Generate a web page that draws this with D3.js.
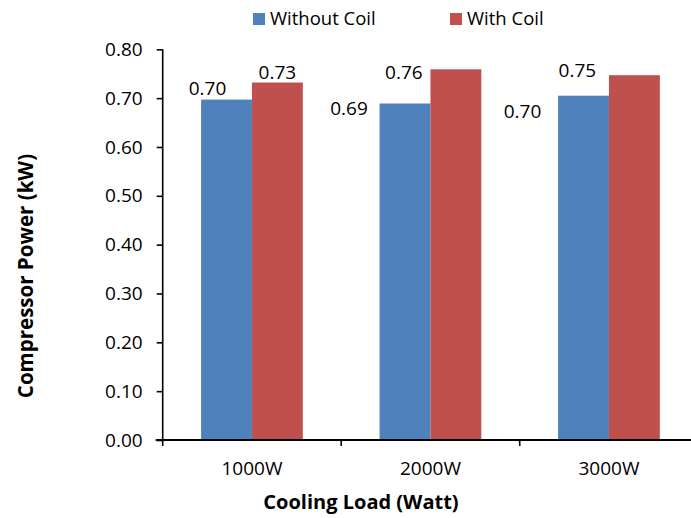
<!DOCTYPE html>
<html>
<head>
<meta charset="utf-8">
<script src="https://cdn.jsdelivr.net/npm/d3@7"></script>
<style>
    body { margin: 0; background: #fff; }
    text { font-family: "Open Sans", sans-serif; fill: #000; }
</style>
</head>
<body>
<svg id="chart" width="691" height="518"></svg>
<script>
'use strict';

const categories = ['1000W', '2000W', '3000W'];
const seriesNames = ['Without Coil', 'With Coil'];
const withoutCoil = [0.697, 0.689, 0.705];
const withCoil = [0.732, 0.759, 0.747];
const valueLabels = [['0.70', '0.69', '0.70'], ['0.73', '0.76', '0.75']];
const yTicks = [0, 0.1, 0.2, 0.3, 0.4, 0.5, 0.6, 0.7, 0.8];

// label nudges (px) relative to bar top centre, per series then category
const labelOffset = [
    [[-19, -5], [-56, 11], [-61, 22]],
    [[0, -4], [-52, 10], [-57, 2]]
];
const colors = ['#4F81BD', '#C0504D'];

const svg = d3.select('#chart');
const plotLeft = 162.7, plotRight = 698.2, plotTop = 49.3, plotBottom = 440;
const fontSize = '19px';

const x0 = d3.scaleBand().domain(categories).range([plotLeft, plotRight])
    .paddingInner(0.43).paddingOuter(0.215);
const x1 = d3.scaleBand().domain(seriesNames).range([0, x0.bandwidth()]);
const y = d3.scaleLinear().domain([0, 0.8]).range([plotBottom, plotTop]);

const rows = categories.map((c, i) => ({ cat: c, values: [withoutCoil[i], withCoil[i]] }));

// bars
const groups = svg.append('g').selectAll('g').data(rows).join('g')
    .attr('transform', d => `translate(${x0(d.cat)},0)`);

groups.selectAll('rect').data(d => d.values.map((v, s) => ({ v, s })))
    .join('rect')
    .attr('x', d => x1(seriesNames[d.s]))
    .attr('y', d => y(d.v))
    .attr('width', x1.bandwidth())
    .attr('height', d => y(0) - y(d.v))
    .attr('fill', d => colors[d.s]);

// value labels
rows.forEach((r, ci) => {
    r.values.forEach((v, s) => {
        const cx = x0(r.cat) + x1(seriesNames[s]) + x1.bandwidth() / 2;
        const off = labelOffset[s][ci];
        svg.append('text')
            .attr('x', cx + off[0])
            .attr('y', y(v) + off[1])
            .attr('text-anchor', 'middle')
            .style('font-size', fontSize)
            .text(valueLabels[s][ci]);
    });
});

// y axis
const yAxis = svg.append('g').attr('transform', `translate(${plotLeft},0)`)
    .call(d3.axisLeft(y).tickValues(yTicks).tickFormat(d3.format('.2f')).tickSize(6).tickPadding(14));
yAxis.select('.domain').attr('stroke', '#000').attr('stroke-width', 1.6).attr('d', `M0,${plotTop}V${plotBottom}`);
yAxis.selectAll('.tick line').attr('stroke', '#000').attr('stroke-width', 1.6);
yAxis.selectAll('.tick text').style('font-size', fontSize).style('font-family', '"Open Sans", sans-serif').attr('fill', '#000');

// x axis
const xAxis = svg.append('g').attr('transform', `translate(0,${plotBottom})`)
    .call(d3.axisBottom(x0).tickSize(0).tickPadding(22));
xAxis.select('.domain').attr('stroke', '#000').attr('stroke-width', 2).attr('d', `M${plotLeft - 7},0H${plotRight}`);
xAxis.selectAll('.tick text').style('font-size', fontSize).style('font-family', '"Open Sans", sans-serif').attr('fill', '#000');

const step = x0.step();
svg.append('g').selectAll('line').data(d3.range(categories.length + 1)).join('line')
    .attr('x1', i => plotLeft + i * step).attr('x2', i => plotLeft + i * step)
    .attr('y1', plotBottom).attr('y2', plotBottom + 6)
    .attr('stroke', '#000').attr('stroke-width', 1.6);

// axis titles
svg.append('text')
    .attr('x', 361).attr('y', 509)
    .attr('text-anchor', 'middle')
    .style('font-size', '20px').style('font-weight', 'bold')
    .text('Cooling Load (Watt)');

svg.append('text')
    .attr('transform', 'translate(33,276) rotate(-90)')
    .attr('text-anchor', 'middle')
    .style('font-size', '20.5px').style('font-weight', 'bold')
    .text('Compressor Power (kW)');

// legend
const legendX = [253, 450];
const legend = svg.append('g').selectAll('g').data(seriesNames).join('g')
    .attr('transform', (d, i) => `translate(${legendX[i]},13)`);
legend.append('rect').attr('width', 12).attr('height', 12).attr('fill', (d, i) => colors[i]);
legend.append('text').attr('x', 17).attr('y', 12)
    .style('font-size', '18.5px').text(d => d);
</script>
</body>
</html>
